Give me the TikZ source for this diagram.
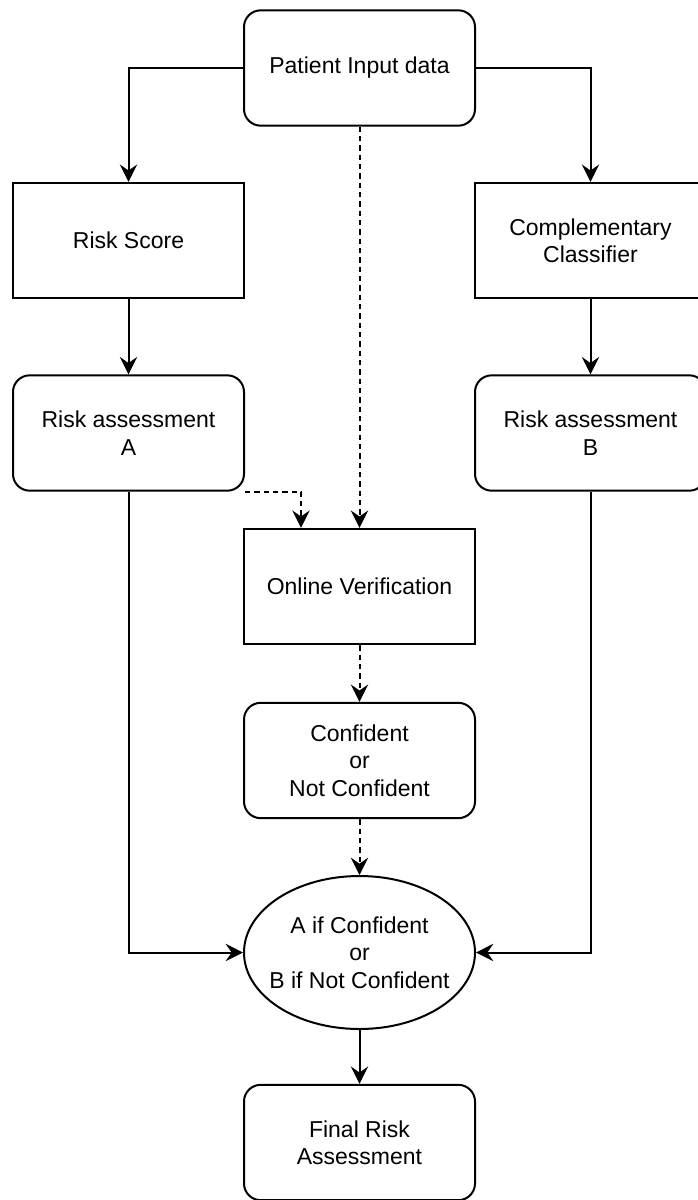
\documentclass[tikz,border=0pt]{standalone}
\usepackage{fontspec}
\setmainfont{Liberation Sans}
\usetikzlibrary{arrows.meta,shapes.geometric,calc}
\begin{document}
\begin{tikzpicture}[x=0.75pt,y=-0.75pt,
  every node/.style={font=\fontsize{17.25}{20.5}\selectfont, align=center, inner sep=0pt},
  box/.style={draw, line width=1.5pt, minimum width=173.25pt, minimum height=86.5pt},
  rbox/.style={box, rounded corners=12.5pt},
  oval/.style={draw, line width=1.5pt, ellipse, minimum width=173.25pt, minimum height=114.75pt},
  link/.style={line width=1.5pt, -{Stealth[length=13pt,width=13pt,inset=4.5pt]}},
  dlink/.style={link, dash pattern=on 4pt off 3pt}
]
\useasboundingbox (0,0) rectangle (697,1200);

\node[rbox] (pid) at (359.5,68) {Patient Input data};
\node[box] (rs) at (128.5,240.5) {Risk Score};
\node[box] (cc) at (590.5,240.5) {Complementary\\Classifier};
\node[rbox] (ra) at (128.5,433) {Risk assessment\\A};
\node[rbox] (rb) at (590.5,433) {Risk assessment\\B};
\node[box] (ov) at (359.5,586.5) {Online Verification};
\node[rbox] (cnc) at (359.5,760.5) {Confident\\or\\Not Confident};
\node[oval] (sel) at (359.5,952.5) {};
\node (seltext) at (sel.center) {A if Confident\\or\\B if Not Confident};
\node[rbox] (fra) at (359.5,1142.5) {Final Risk\\Assessment};

\coordinate (ovin) at ([xshift=43.5pt]ov.north west);

\draw[link] (pid.west) -| (rs.north);
\draw[link] (pid.east) -| (cc.north);
\draw[link] (rs.south) -- (ra.north);
\draw[link] (cc.south) -- (rb.north);
\draw[link] (ra.south) |- (sel.west);
\draw[link] (rb.south) |- (sel.east);
\draw[dlink] (pid.south) -- (ov.north);
\draw[dlink] (ra.south east) -| (ovin);
\draw[dlink] (ov.south) -- (cnc.north);
\draw[dlink] (cnc.south) -- (sel.north);
\draw[link] (sel.south) -- (fra.north);
\end{tikzpicture}
\end{document}
